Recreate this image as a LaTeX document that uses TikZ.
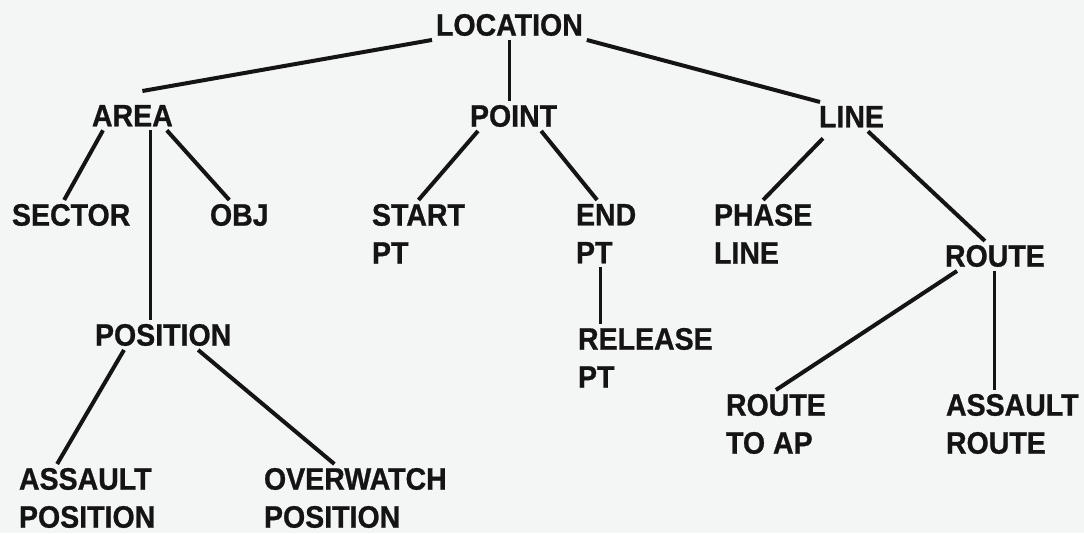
\documentclass[tikz,border=0pt]{standalone}
\usepackage{fontspec}
\newfontfamily\treefont[FakeStretch=0.92, BoldFeatures={FakeBold=0.8}]{Liberation Sans}
\usepackage{tikz}
\definecolor{paper}{RGB}{244,246,245}
\definecolor{ink}{RGB}{20,20,20}

\begin{document}
\begin{tikzpicture}[x=1pt, y=-1pt,
    term/.style={anchor=north west, inner sep=0pt, outer sep=4pt, align=left,
      text=ink, font=\treefont\bfseries\fontsize{31}{38}\selectfont},
    branch/.style={draw=ink, line width=4pt},
    stem/.style={draw=ink, line width=3pt}]
  % Page
  \fill[paper] (0,0) rectangle (1084,533);
  \useasboundingbox (0,0) rectangle (1084,533);

  % Root and first level
  \node[term] (loc) at (432,10) {LOCATION};
  \node[term] (area) at (88,101) {AREA};
  \node[term] (point) at (466,101) {POINT};
  \node[term] (line) at (815,102) {LINE};

  % Second level
  \node[term] (sector) at (8,200) {SECTOR};
  \node[term] (obj) at (206,200) {OBJ};
  \node[term] (start) at (368,200) {START\\PT};
  \node[term] (endpt) at (572,200) {END\\PT};
  \node[term] (phase) at (710,200) {PHASE\\LINE};
  \node[term] (route) at (941,241) {ROUTE};

  % Third level
  \node[term] (position) at (91,320) {POSITION};
  \node[term] (release) at (574,324) {RELEASE\\PT};
  \node[term] (routeap) at (722,390) {ROUTE\\TO AP};
  \node[term] (aroute) at (942,390) {ASSAULT\\ROUTE};

  % Fourth level
  \node[term] (apos) at (15,464) {ASSAULT\\POSITION};
  \node[term] (opos) at (260,464) {OVERWATCH\\POSITION};

  % Branches from LOCATION
  \draw[branch] (loc.south west) -- ([shift={(10,-10)}]area.north);
  \draw[stem] (loc.south) -- (loc.south |- point.north);
  \draw[branch] (loc.south east) -- ([xshift=5pt]line.north west);

  % Branches from AREA
  \coordinate (areafoot) at ([xshift=18pt]area.south);
  \draw[branch] ([xshift=15pt]area.south west) -- ([xshift=-7pt]sector.north);
  \draw[stem] (areafoot) -- (areafoot |- position.north);
  \draw[branch] ([xshift=-10pt]area.south east) -- ([xshift=-10pt]obj.north);

  % Branches from POINT
  \draw[branch] ([xshift=12pt]point.south west) -- (start.north);
  \draw[branch] ([xshift=-20pt]point.south east) -- ([xshift=-9pt]endpt.north);
  \coordinate (endfoot) at ([xshift=28pt]endpt.south west);
  \draw[stem] (endfoot) -- (endfoot |- release.north);

  % Branches from LINE
  \draw[branch] ([shift={(8,7)}]line.south west) -- (phase.north);
  \draw[branch] ([xshift=-20pt]line.south east) -- ([xshift=-10pt]route.north);
  \draw[branch] ([xshift=16pt]route.south west) -- (routeap.north);
  \draw[stem] (route.south) -- (route.south |- aroute.north);

  % Branches from POSITION
  \draw[branch] ([xshift=33pt]position.south west) -- ([xshift=-30pt]apos.north);
  \draw[branch] ([xshift=35pt]position.south) -- ([xshift=-21pt]opos.north);
\end{tikzpicture}
\end{document}
